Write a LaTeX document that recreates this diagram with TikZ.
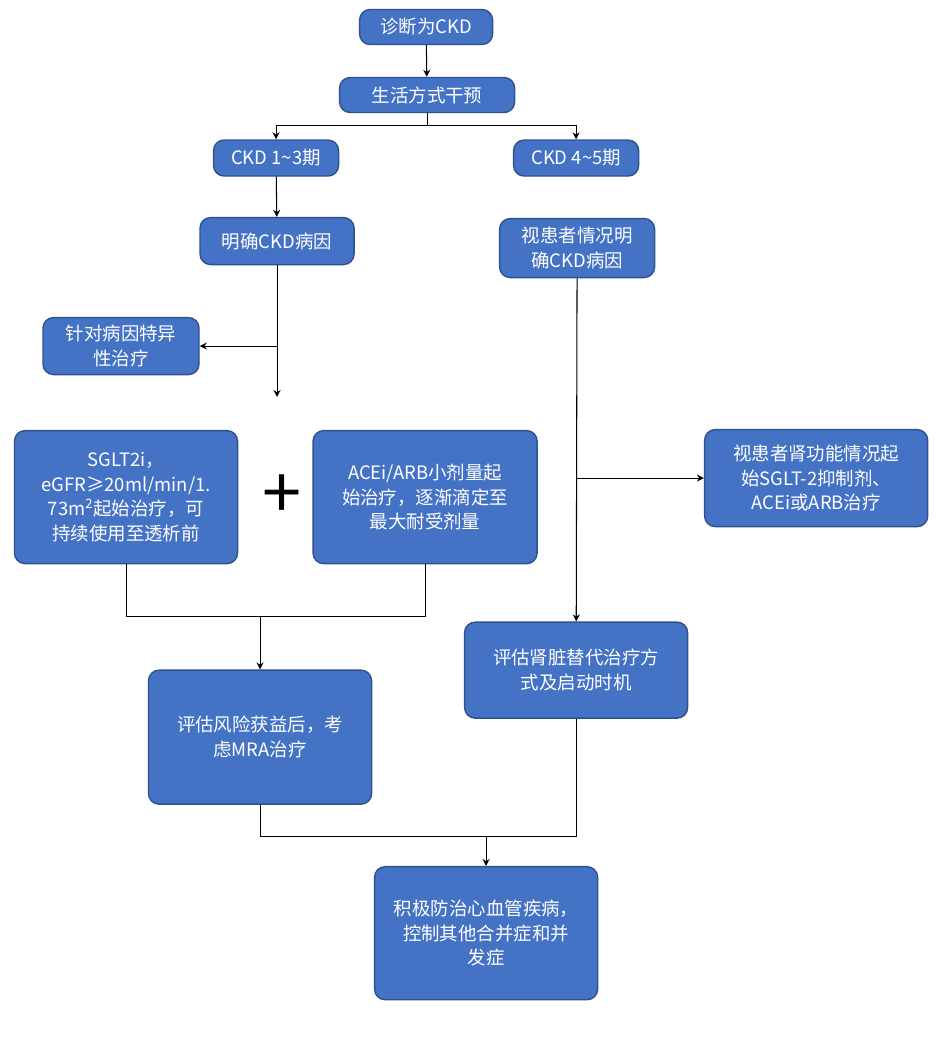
\documentclass[tikz,border=0pt]{standalone}
\usepackage{fontspec}
\setmainfont{Noto Sans CJK SC}
\usetikzlibrary{arrows.meta,positioning,calc}
\definecolor{boxblue}{HTML}{4472C4}
\definecolor{boxedge}{HTML}{2F528F}
\tikzset{
  box/.style={draw=boxedge, line width=0.8pt, fill=boxblue, rounded corners=6pt,
    text=white, align=center, font=\fontsize{10.5}{14}\selectfont, inner sep=2pt},
  link/.style={-{Stealth[length=4pt,width=4pt]}, line width=0.6pt},
  line/.style={line width=0.6pt}
}
\newcommand{\pxbox}[6]{% name, cx, cy, w, h, text
  \node[box, minimum width=#4*0.02cm, minimum height=#5*0.02cm]
    (#1) at (#2*0.02,-#3*0.02) {#6};}
\begin{document}
\begin{tikzpicture}
\useasboundingbox (0,0) rectangle (18.78,-20.8);

% Top
\pxbox{diag}{426}{27}{133}{35}{诊断为CKD}
\pxbox{life}{427}{95}{175}{35}{生活方式干预}
\pxbox{early}{276}{158}{125}{36}{CKD 1\textasciitilde3期}
\pxbox{late}{576}{158}{125}{36}{CKD 4\textasciitilde5期}

% Left branch
\pxbox{cause}{277}{241}{154}{47}{明确CKD病因}
\pxbox{special}{121}{346}{156}{57}{针对病因特异\\性治疗}
\pxbox{sglt}{126}{497}{223}{133}{SGLT2i，\\eGFR≥20ml/min/1.\\73m\textsuperscript{2}起始治疗，可\\持续使用至透析前}
\pxbox{acei}{425}{497}{224}{133}{ACEi/ARB小剂量起\\始治疗，逐渐滴定至\\最大耐受剂量}
\node[font=\fontsize{40}{40}\selectfont, inner sep=0pt] (plus) at (282*0.02,-497*0.02) {+};
\pxbox{mra}{260}{737}{223}{134}{评估风险获益后，考\\虑MRA治疗}

% Right branch
\pxbox{cause2}{577}{248}{155}{59}{视患者情况明\\确CKD病因}
\pxbox{kidney}{816}{478}{223}{97}{视患者肾功能情况起\\始SGLT-2抑制剂、\\ACEi或ARB治疗}
\pxbox{rrt}{576}{670}{223}{96}{评估肾脏替代治疗方\\式及启动时机}

% Bottom
\pxbox{cvd}{486}{933}{223}{133}{积极防治心血管疾病，\\控制其他合并症和并\\发症}

% Connectors
\coordinate (split) at (427*0.02,-125*0.02);
\coordinate (below) at (277*0.02,-397*0.02);
\coordinate (join) at (260*0.02,-616*0.02);
\coordinate (merge) at (486*0.02,-836*0.02);
\draw[link] (diag) -- (life);
\draw[line] (life) -- (split);
\draw[link] (split) -| (early);
\draw[link] (split) -| (late);
\draw[link] (early) -- (cause);
\draw[link] (cause) -- (below);
\draw[link] (cause |- special) -- (special);
\draw[line] (sglt) |- (join) -| (acei);
\draw[link] (join) -- (mra);
\draw[link] (cause2) -- (rrt);
\draw[link] (cause2 |- kidney) -- (kidney);
\draw[line] (mra) |- (merge) -| (rrt);
\draw[link] (merge) -- (cvd);
\end{tikzpicture}
\end{document}
